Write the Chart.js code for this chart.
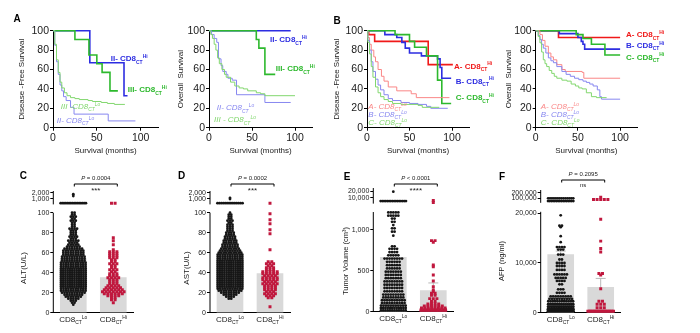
<!DOCTYPE html>
<html>
<head>
<meta charset="utf-8">
<script src="https://cdn.jsdelivr.net/npm/chart.js@4.4.1/dist/chart.umd.min.js"></script>
<style>
  body { margin: 0; background: #fff; width: 700px; height: 333px; overflow: hidden; position: relative; }
  canvas { position: absolute; }
</style>
</head>
<body>
<script>
// ---------- data: survival curves (months / % surviving) ----------
const kmTicksX = [0, 50, 100];
const kmTicksY = [0, 20, 40, 60, 80, 100];

// A - disease-free
const aDfsHi2M = [0, 42, 81, 85], aDfsHi2S = [100, 67, 33, 33];
const aDfsHi3M = [0, 25, 41, 50, 56, 65, 74], aDfsHi3S = [100, 91, 75, 66, 57, 38, 38];
const aDfsLo2M = [0, 2, 4, 6, 8, 10, 12, 15, 20, 24, 63, 94], aDfsLo2S = [100, 85, 68, 55, 44, 38, 32, 28, 21, 14, 7, 7];
const aDfsLo3M = [0, 2, 4, 6, 8, 10, 13, 16, 20, 25, 30, 40, 45, 55, 62, 70, 82], aDfsLo3S = [100, 86, 70, 57, 47, 41, 36, 33, 31, 30, 29, 28, 27, 26, 25, 24, 24];
// A - overall
const aOsHi2M = [0, 95], aOsHi2S = [100, 100];
const aOsHi3M = [0, 55, 58, 65, 77], aOsHi3S = [100, 91, 82, 55, 55];
const aOsLo2M = [0, 3, 6, 9, 11, 14, 16, 20, 22, 27, 32, 65, 95], aOsLo2S = [100, 96, 92, 88, 71, 64, 58, 55, 51, 49, 34, 26, 26];
const aOsLo3M = [0, 2, 4, 6, 8, 10, 12, 15, 18, 20, 25, 30, 35, 40, 45, 55, 60, 65, 100], aOsLo3S = [100, 96, 92, 86, 80, 72, 66, 60, 55, 52, 47, 43, 41, 40, 38, 36, 35, 33, 33];
// B - disease-free
const bDfsHiAM = [0, 2, 9, 72, 101], bDfsHiAS = [100, 96, 89, 65, 65];
const bDfsHiBM = [0, 21, 35, 41, 45, 50, 64, 83, 86, 88, 99], bDfsHiBS = [100, 96, 93, 88, 82, 77, 74, 71, 62, 51, 51];
const bDfsHiCM = [0, 33, 50, 56, 70, 83, 88, 99], bDfsHiCS = [100, 96, 89, 83, 74, 49, 25, 25];
const bDfsLoAM = [0, 1, 3, 5, 8, 10, 13, 17, 20, 25, 35, 52, 58, 97], bDfsLoAS = [100, 93, 86, 80, 73, 68, 60, 53, 48, 42, 38, 35, 31, 31];
const bDfsLoBM = [0, 1, 3, 5, 7, 10, 13, 16, 20, 25, 30, 40, 50, 60, 70, 75, 95], bDfsLoBS = [100, 90, 80, 68, 58, 50, 44, 39, 34, 30, 28, 26, 25, 24, 22, 20, 20];
const bDfsLoCM = [0, 1, 3, 5, 7, 10, 13, 16, 20, 25, 30, 40, 60, 65, 85], bDfsLoCS = [100, 88, 76, 63, 52, 42, 36, 32, 29, 27, 25, 24, 23, 21, 21];
// B - overall
const bOsHiAM = [0, 27, 100], bOsHiAS = [100, 93, 93];
const bOsHiBM = [0, 28, 50, 54, 56, 58, 100], bOsHiBS = [100, 97, 93, 89, 86, 81, 81];
const bOsHiCM = [0, 48, 56, 66, 82, 100], bOsHiCS = [100, 96, 92, 86, 75, 75];
const bOsLoAM = [0, 5, 8, 11, 15, 18, 21, 25, 31, 35, 55, 57, 100], bOsLoAS = [100, 96, 90, 84, 77, 73, 70, 65, 60, 58, 57, 51, 51];
const bOsLoBM = [0, 3, 5, 7, 9, 12, 15, 18, 21, 25, 31, 36, 41, 46, 51, 56, 60, 64, 68, 73, 76, 78, 100];
const bOsLoBS = [100, 95, 91, 86, 82, 77, 72, 69, 67, 63, 58, 55, 53, 51, 49.5, 48, 46.7, 45, 43, 39, 32, 29.4, 29.4];
const bOsLoCM = [0, 3, 5, 7, 9, 11, 13, 16, 19, 22, 25, 31, 37, 42, 47, 51, 55, 60, 66, 72, 84];
const bOsLoCS = [100, 94, 87.5, 78, 70, 66, 63, 59, 56, 53, 51, 49, 48, 45, 43, 41, 40, 36, 32, 31, 31];

// ---------- data: lab values, rows of [value, number of patients] ----------
const groupSup = ['Lo', 'Hi'];

const altLo = [[8,1],[10,2],[12,3],[14,5],[16,7],[18,8],[20,10],[22,11],[24,11],[26,12],[28,12],[30,12],[32,12],[34,12],[36,12],[38,12],[40,12],[42,12],[44,12],[46,11],[48,11],[50,11],[52,10],[54,10],[56,10],[58,9],[60,9],[62,9],[64,8],[66,6],[68,5],[70,4],[72,5],[74,3],[76,4],[78,3],[80,3],[82,3],[84,4],[86,2],[88,2],[90,2],[92,3],[94,2],[96,3],[98,2],[100,2],[300,16],[1500,1],[1800,1]];
const altHi = [[10,1],[13,2],[15,2],[17,4],[19,6],[21,7],[23,6],[25,5],[27,4],[29,3],[31,3],[33,3],[35,4],[37,3],[39,3],[41,2],[43,3],[45,2],[47,2],[49,3],[51,2],[53,2],[55,3],[57,3],[59,3],[61,3],[63,1],[68,1],[72,1],[75,1],[300,2]];
const altMeans = [54, 35], altSem = [3, 2];
const altTicks = [0, 20, 40, 60, 80, 100, 1000, 2000];

const astLo = [[14,2],[16,4],[18,6],[20,8],[22,10],[24,11],[26,12],[28,12],[30,12],[32,12],[34,12],[36,12],[38,12],[40,12],[42,12],[44,12],[46,12],[48,12],[50,12],[52,12],[54,11],[56,11],[58,11],[60,10],[62,9],[64,8],[66,7],[68,7],[70,6],[72,6],[74,5],[76,5],[78,4],[80,4],[82,3],[84,3],[86,3],[88,3],[90,2],[92,3],[94,2],[96,2],[98,2],[100,1],[300,14],[1000,1],[1200,1]];
const astHi = [[6,1],[15,2],[17,3],[19,4],[21,3],[23,4],[25,4],[27,4],[29,5],[31,4],[33,5],[35,5],[37,4],[39,5],[41,5],[43,3],[45,3],[47,2],[49,3],[51,2],[63,1],[79,1],[83,1],[89,1],[93,1],[99,1],[300,1]];
const astMeans = [59, 39], astSem = [3, 3];
const astTicks = [0, 20, 40, 60, 80, 100, 1000, 2000];

const tumorLo = [[15,12],[45,12],[75,11],[105,10],[140,10],[175,9],[210,9],[250,8],[290,8],[330,8],[370,8],[410,7],[450,7],[490,7],[530,6],[570,6],[610,6],[650,8],[690,5],[730,4],[770,4],[800,2],[930,1],[980,2],[1020,2],[1060,1],[1100,2],[1140,2],[1175,5],[1215,5],[5000,16],[19000,1]];
const tumorHi = [[8,12],[25,10],[45,8],[70,6],[95,4],[125,2],[160,3],[200,2],[225,2],[245,1],[265,1],[306,1],[376,1],[449,1],[551,1],[571,1],[850,1],[870,2],[3000,1],[6000,1]];
const tumorMeans = [664, 260], tumorSem = [40, 92];
const tumorTicks = [0, 500, 1000, 10000, 20000];

const afpLo = [[300,20],[700,18],[1200,16],[1700,14],[2300,12],[2800,10],[3300,9],[4000,4],[4700,3],[5700,2],[6400,4],[7000,5],[7700,6],[8600,4],[9400,4],[10000,4],[10700,2],[11700,3],[12700,3],[13200,4],[14200,1],[15400,1],[17200,1],[17500,2],[19600,1],[52000,16],[100000,14]];
const afpHi = [[300,20],[1000,3],[1700,3],[2300,2],[4800,1],[7600,1],[7900,2],[12200,1],[12900,1],[14400,1],[18800,1],[80000,5],[120000,1]];
const afpMeans = [11700, 5100], afpSem = [700, 1800];
const afpTicks = [0, 10000, 20000, 100000, 200000];

// ---------- setup ----------
const FONT = "'Liberation Sans', Arial, sans-serif";
Chart.defaults.font.family = FONT;
Chart.defaults.color = '#1a1a1a';
Chart.defaults.animation = false;
Chart.defaults.plugins.legend.display = false;
Chart.defaults.plugins.tooltip.enabled = false;

const blueHi = 'rgb(45,45,225)', greenHi = 'rgb(45,185,45)', redHi = 'rgb(240,25,25)';
const blueLo = 'rgb(135,135,240)', greenLo = 'rgb(130,215,110)', redLo = 'rgb(250,135,135)';

function addCanvas(id, r) {
  const c = document.createElement('canvas');
  c.id = id;
  c.width = r.x2 - r.x;
  c.height = r.y2 - r.y;
  c.style.left = r.x + 'px';
  c.style.top = r.y + 'px';
  document.body.appendChild(c);
  return c.getContext('2d');
}

// text with subscript (-1) / superscript (1) pieces
function richText(ctx, x, y, parts, size, weight, style, align) {
  const font = p => `${style} ${weight} ${p ? size * 0.62 : size}px ${FONT}`;
  let w = 0;
  parts.forEach(p => { ctx.font = font(p[1]); w += ctx.measureText(p[0]).width; });
  let cx = align === 'center' ? x - w / 2 : x;
  ctx.textAlign = 'left';
  ctx.textBaseline = 'alphabetic';
  parts.forEach(p => {
    ctx.font = font(p[1]);
    const dy = p[1] === -1 ? size * 0.28 : (p[1] === 1 ? -size * 0.42 : 0);
    ctx.fillText(p[0], cx, y + dy);
    cx += ctx.measureText(p[0]).width;
  });
}
const cd8 = (pre, sup) => [[pre + 'CD8', 0], ['CT', -1], [sup, 1]];

function letter(ctx, t, x, y) {
  ctx.font = `bold 10px ${FONT}`;
  ctx.fillStyle = '#000';
  ctx.textAlign = 'center';
  ctx.textBaseline = 'middle';
  ctx.fillText(t, x, y);
}

// ---------- survival charts ----------
function kmChart(id, rect, area, yTitle, titlePad, curves, labels, panel) {
  const ctx = addCanvas(id, rect);
  const YW = 36, XH = 28;
  new Chart(ctx, {
    type: 'line',
    data: {
      datasets: curves.map(c => ({
        data: c.m.map((m, i) => ({x: m, y: c.s[i]})),
        borderColor: c.color,
        borderWidth: c.hi ? 1.6 : 1,
        stepped: 'before',
        pointRadius: 0,
        fill: false,
        clip: 5
      }))
    },
    options: {
      responsive: false,
      devicePixelRatio: 1,
      layout: {padding: {left: area.l - rect.x - YW, top: area.t - rect.y, right: rect.x2 - area.r, bottom: rect.y2 - area.b - XH}},
      scales: {
        x: {
          type: 'linear', min: 0, max: 120,
          afterBuildTicks: s => { s.ticks = kmTicksX.map(v => ({value: v})); },
          afterFit: s => { s.height = XH; },
          ticks: {font: {size: 10.5}, padding: 1, maxRotation: 0, color: '#1a1a1a'},
          grid: {drawOnChartArea: false, tickLength: 3, color: '#000'},
          border: {color: '#000', width: 1},
          title: {display: true, text: 'Survival (months)', font: {size: 8}, padding: 0, color: '#1a1a1a'}
        },
        y: {
          min: 0, max: 100,
          afterBuildTicks: s => { s.ticks = kmTicksY.map(v => ({value: v})); },
          afterFit: s => { s.width = YW; },
          ticks: {font: {size: 10.5}, padding: 1, color: '#1a1a1a'},
          grid: {drawOnChartArea: false, tickLength: 3, color: '#000'},
          border: {color: '#000', width: 1},
          title: {display: true, text: yTitle, font: {size: 8}, padding: {top: titlePad, bottom: 0}, color: '#1a1a1a'}
        }
      }
    },
    plugins: [{
      id: 'kmLabels',
      afterDraw(chart) {
        const c = chart.ctx;
        c.save();
        c.translate(-rect.x, -rect.y);
        labels.forEach(l => {
          c.fillStyle = l.c;
          richText(c, l.x, l.y, cd8(l.t, l.sup), 8, l.sup === 'Hi' ? 'bold' : 'normal', l.sup === 'Hi' ? 'normal' : 'italic', 'left');
        });
        if (panel) letter(c, panel[0], panel[1], panel[2]);
        c.restore();
      }
    }]
  });
}

kmChart('aDfs', {x: 0, y: 0, x2: 175, y2: 165}, {l: 53, t: 30.7, r: 158.2, b: 127.7}, 'Disease -Free Survival', 0, [
  {m: aDfsLo3M, s: aDfsLo3S, color: greenLo},
  {m: aDfsLo2M, s: aDfsLo2S, color: blueLo},
  {m: aDfsHi3M, s: aDfsHi3S, color: greenHi, hi: true},
  {m: aDfsHi2M, s: aDfsHi2S, color: blueHi, hi: true}
], [
  {x: 110.7, y: 61.3, t: 'II- ', sup: 'Hi', c: blueHi},
  {x: 127.7, y: 92.3, t: 'III- ', sup: 'Hi', c: greenHi},
  {x: 60.7, y: 109, t: 'III -', sup: 'Lo', c: greenLo},
  {x: 56.7, y: 123, t: 'II- ', sup: 'Lo', c: blueLo}
], ['A', 17, 19.5]);

kmChart('aOs', {x: 170, y: 0, x2: 350, y2: 165}, {l: 209, t: 30.7, r: 312.2, b: 127.7}, 'Overall  Survival', 3, [
  {m: aOsLo3M, s: aOsLo3S, color: greenLo},
  {m: aOsLo2M, s: aOsLo2S, color: blueLo},
  {m: aOsHi3M, s: aOsHi3S, color: greenHi, hi: true},
  {m: aOsHi2M, s: aOsHi2S, color: blueHi, hi: true}
], [
  {x: 270, y: 42.3, t: 'II- ', sup: 'Hi', c: blueHi},
  {x: 275.7, y: 71.3, t: 'III- ', sup: 'Hi', c: greenHi},
  {x: 216.7, y: 110.3, t: 'II- ', sup: 'Lo', c: blueLo},
  {x: 214, y: 122.3, t: 'III - ', sup: 'Lo', c: greenLo}
], null);

kmChart('bDfs', {x: 330, y: 0, x2: 505, y2: 165}, {l: 367, t: 30.7, r: 469, b: 127.7}, 'Disease -Free Survival', 1, [
  {m: bDfsLoCM, s: bDfsLoCS, color: greenLo},
  {m: bDfsLoBM, s: bDfsLoBS, color: blueLo},
  {m: bDfsLoAM, s: bDfsLoAS, color: redLo},
  {m: bDfsHiCM, s: bDfsHiCS, color: greenHi, hi: true},
  {m: bDfsHiBM, s: bDfsHiBS, color: blueHi, hi: true},
  {m: bDfsHiAM, s: bDfsHiAS, color: redHi, hi: true}
], [
  {x: 454, y: 68.7, t: 'A- ', sup: 'Hi', c: redHi},
  {x: 455.7, y: 83.7, t: 'B- ', sup: 'Hi', c: blueHi},
  {x: 455.7, y: 100.3, t: 'C- ', sup: 'Hi', c: greenHi},
  {x: 368.3, y: 109, t: 'A- ', sup: 'Lo', c: redLo},
  {x: 368.3, y: 117, t: 'B- ', sup: 'Lo', c: blueLo},
  {x: 368.3, y: 125, t: 'C- ', sup: 'Lo', c: greenLo}
], ['B', 337, 21]);

kmChart('bOs', {x: 495, y: 0, x2: 700, y2: 165}, {l: 535.7, t: 30.7, r: 637, b: 127.7}, 'Overall  Survival', 4.5, [
  {m: bOsLoCM, s: bOsLoCS, color: greenLo},
  {m: bOsLoBM, s: bOsLoBS, color: blueLo},
  {m: bOsLoAM, s: bOsLoAS, color: redLo},
  {m: bOsHiCM, s: bOsHiCS, color: greenHi, hi: true},
  {m: bOsHiBM, s: bOsHiBS, color: blueHi, hi: true},
  {m: bOsHiAM, s: bOsHiAS, color: redHi, hi: true}
], [
  {x: 626, y: 37.3, t: 'A- ', sup: 'Hi', c: redHi},
  {x: 626, y: 48, t: 'B- ', sup: 'Hi', c: blueHi},
  {x: 626, y: 59.7, t: 'C- ', sup: 'Hi', c: greenHi},
  {x: 540.7, y: 109, t: 'A- ', sup: 'Lo', c: redLo},
  {x: 540.7, y: 117, t: 'B- ', sup: 'Lo', c: blueLo},
  {x: 540.7, y: 125, t: 'C- ', sup: 'Lo', c: greenLo}
], null);

// ---------- scatter-bar charts with broken y axis ----------
function dotChart(id, rect, area, p) {
  const ctx = addCanvas(id, rect);
  const YW = 40, XH = 20;
  // lower segment is linear up to L, upper segment compressed by K after a gap G
  const disp = v => v <= p.L ? v : p.L + p.G + (v - p.L) * p.K;
  const yMax = (area.b - area.t) / p.ppu;
  const pxPerX = (area.r - area.l) / 2;
  const swarm = (rows, cx, gap) => {
    const pts = [];
    rows.forEach(([v, n]) => {
      const step = Math.min(gap, 27 / n) / pxPerX;
      for (let j = 0; j < n; j++) pts.push({x: cx + (j - (n - 1) / 2) * step, y: disp(v)});
    });
    return pts;
  };
  const tickLabels = p.ticks.map(v => v.toLocaleString('en-US'));
  new Chart(ctx, {
    type: 'scatter',
    data: {
      datasets: [
        {data: swarm(p.lo, 0, 2.5), pointStyle: 'circle', pointRadius: 1.4, backgroundColor: '#161616', borderWidth: 0, order: 1},
        {data: swarm(p.hi, 1, 3.6), pointStyle: 'rect', pointRadius: 2.1, backgroundColor: 'rgb(192,24,62)', borderWidth: 0, order: 1},
        {type: 'bar', data: p.means.map((m, i) => ({x: i, y: disp(m)})), backgroundColor: '#d9d9d9', barThickness: 26, order: 3}
      ]
    },
    options: {
      responsive: false,
      devicePixelRatio: 1,
      layout: {padding: {left: area.l - rect.x - YW, top: area.t - rect.y, right: rect.x2 - area.r, bottom: rect.y2 - area.b - XH}},
      scales: {
        x: {
          type: 'linear', min: -0.5, max: 1.5, offset: false,
          afterFit: s => { s.height = XH; },
          ticks: {display: false},
          grid: {display: false},
          border: {color: '#000', width: 1}
        },
        y: {
          type: 'linear', min: 0, max: yMax,
          afterBuildTicks: s => { s.ticks = p.ticks.map(v => ({value: disp(v)})); },
          afterFit: s => { s.width = YW; },
          ticks: {font: {size: 7}, padding: 1, autoSkip: false, color: '#1a1a1a', callback: (v, i) => tickLabels[i]},
          grid: {drawOnChartArea: false, tickLength: 3, color: '#000'},
          border: {display: false}
        }
      }
    },
    plugins: [{
      id: 'extras',
      afterDatasetDraw(chart, args) {
        if (args.index !== 2) return;
        const c = chart.ctx, xs = chart.scales.x, ys = chart.scales.y;
        c.save();
        c.strokeStyle = '#b8b8b8';
        c.lineWidth = 1;
        p.means.forEach((m, i) => {
          const x = xs.getPixelForValue(i);
          const y1 = ys.getPixelForValue(disp(m)), y2 = ys.getPixelForValue(disp(m + p.sem[i]));
          c.beginPath();
          c.moveTo(x, y1); c.lineTo(x, y2);
          c.moveTo(x - 5, y2); c.lineTo(x + 5, y2);
          c.stroke();
        });
        c.restore();
      },
      afterDraw(chart) {
        const c = chart.ctx, xs = chart.scales.x, ys = chart.scales.y;
        const ax = chart.chartArea.left;
        c.save();
        // broken y axis
        c.strokeStyle = '#000';
        c.lineWidth = 1;
        c.beginPath();
        c.moveTo(ax, ys.getPixelForValue(0)); c.lineTo(ax, ys.getPixelForValue(p.L));
        c.moveTo(ax, ys.getPixelForValue(p.L + p.G)); c.lineTo(ax, chart.chartArea.top);
        c.stroke();
        c.fillStyle = '#1a1a1a';
        // group labels
        groupSup.forEach((g, i) => {
          richText(c, xs.getPixelForValue(i), chart.chartArea.bottom + 9.5, cd8('', g), 8, 'normal', 'normal', 'center');
        });
        const bx1 = xs.getPixelForValue(0) + 1, bx2 = xs.getPixelForValue(1) + 4;
        c.translate(-rect.x, -rect.y);
        // y title
        c.save();
        c.translate(p.title[1], p.title[2]);
        c.rotate(-Math.PI / 2);
        c.font = `${p.title[3]}px ${FONT}`;
        c.textAlign = 'center';
        c.textBaseline = 'middle';
        c.fillText(p.title[0], 0, 0);
        c.restore();
        // significance bracket
        const ox = bx1 + rect.x, ox2 = bx2 + rect.x, by = p.bracketY;
        c.beginPath();
        c.moveTo(ox, by + 2.5); c.lineTo(ox, by); c.lineTo(ox2, by); c.lineTo(ox2, by + 2.5);
        c.stroke();
        const mx = (ox + ox2) / 2;
        c.textBaseline = 'middle';
        c.font = `italic 6px ${FONT}`;
        const pw = c.measureText('P').width;
        c.font = `6px ${FONT}`;
        const rw = c.measureText(p.pText).width;
        c.textAlign = 'left';
        c.font = `italic 6px ${FONT}`;
        c.fillText('P', mx - (pw + rw) / 2, by - 6);
        c.font = `6px ${FONT}`;
        c.fillText(p.pText, mx - (pw + rw) / 2 + pw, by - 6);
        c.textAlign = 'center';
        c.font = `${p.sig === 'ns' ? 6 : 8}px ${FONT}`;
        c.fillText(p.sig, mx, by + (p.sig === 'ns' ? 5.5 : 6.5));
        letter(c, p.letter[0], p.letter[1], p.letter[2]);
        c.restore();
      }
    }]
  });
}

dotChart('alt', {x: 0, y: 168, x2: 170, y2: 333}, {l: 53.3, t: 191, r: 133.3, b: 312.7}, {
  lo: altLo, hi: altHi, means: altMeans, sem: altSem, ticks: altTicks,
  L: 100, G: 8.3, K: 0.006, ppu: 1.0,
  title: ['ALT(U/L)', 23.3, 268, 8], pText: ' = 0.0004', sig: '***', bracketY: 184, letter: ['C', 23.3, 176]
});
dotChart('ast', {x: 168, y: 168, x2: 338, y2: 333}, {l: 210, t: 191, r: 290, b: 312.7}, {
  lo: astLo, hi: astHi, means: astMeans, sem: astSem, ticks: astTicks,
  L: 100, G: 8.3, K: 0.006, ppu: 1.0,
  title: ['AST(U/L)', 187, 268, 8], pText: ' = 0.0002', sig: '***', bracketY: 184, letter: ['D', 181.7, 176]
});
dotChart('tumor', {x: 333, y: 168, x2: 493, y2: 333}, {l: 373.3, t: 188, r: 453.3, b: 311.7}, {
  lo: tumorLo, hi: tumorHi, means: tumorMeans, sem: tumorSem, ticks: tumorTicks,
  L: 1220, G: 103, K: 0.0082, ppu: 0.0817,
  title: ['Tumor Volume (cm³)', 346, 261, 7.5], pText: ' < 0.0001', sig: '****', bracketY: 184, letter: ['E', 347, 177]
});
dotChart('afp', {x: 496, y: 168, x2: 696, y2: 333}, {l: 540.7, t: 190, r: 620.7, b: 312.7}, {
  lo: afpLo, hi: afpHi, means: afpMeans, sem: afpSem, ticks: afpTicks,
  L: 20300, G: 1811, K: 0.01127, ppu: 0.00497,
  title: ['AFP (ng/ml)', 502, 261, 7.5], pText: ' = 0.2095', sig: 'ns', bracketY: 180, letter: ['F', 502, 177]
});
</script>
</body>
</html>
